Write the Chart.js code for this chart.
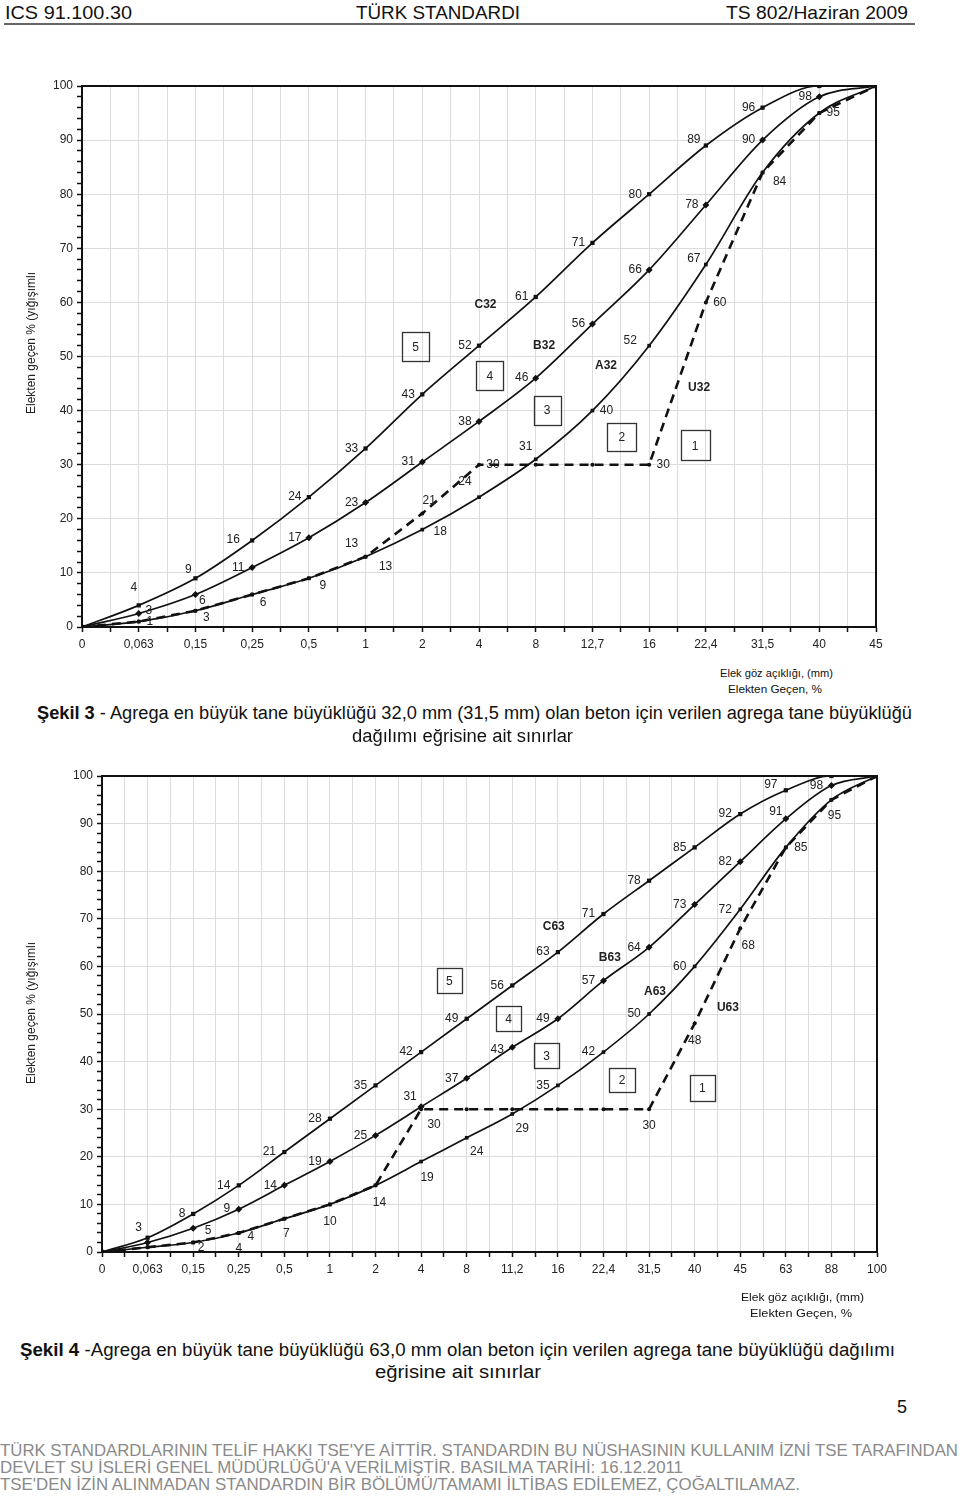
<!DOCTYPE html>
<html><head><meta charset="utf-8">
<script src="https://cdn.jsdelivr.net/npm/chart.js@4.4.0/dist/chart.umd.min.js"></script>
<style>
body{margin:0;width:960px;height:1498px;background:#fff;position:relative;overflow:hidden;font-family:"Liberation Sans",Arial,sans-serif;color:#111;}
.t{position:absolute;white-space:nowrap;transform-origin:0 50%;line-height:1;}
.wrap{position:absolute;left:0;width:960px;}
</style></head><body>
<div class="wrap" style="top:60px;height:600px"><canvas id="c1" width="960" height="600"></canvas></div>
<div class="wrap" style="top:740px;height:560px"><canvas id="c2" width="960" height="560"></canvas></div>
<div style="position:absolute;left:4px;top:23px;width:911px;height:2px;background:#666"></div>
<script>
// ---------- DATA: Şekil 3 ----------
const sieves32 = ['0','0,063','0,15','0,25','0,5','1','2','4','8','12,7','16','22,4','31,5','40','45'];
const C32 = [0,4,9,16,24,33,43,52,61,71,80,89,96,100,100];
const B32 = [0,2.5,6,11,16.5,23,30.5,38,46,56,66,78,90,98,100];
const A32 = [0,1,3,6,9,13,18,24,31,40,52,67,84,95,100];
const U32 = [0,1,3,6,9,13,21,30,30,30,30,60,84,95,100];
const C32lbl = ['','4','9','16','24','33','43','52','61','71','80','89','96','',''];
const B32lbl = ['','3','6','11','17','23','31','38','46','56','66','78','90','98',''];
const A32lbl = ['','1','3','6','9','13','18','24','31','40','52','67','84','95',''];
const U32lbl = ['','','','','','13','21','30','','','30','60','','',''];

// ---------- DATA: Şekil 4 ----------
const sieves63 = ['0','0,063','0,15','0,25','0,5','1','2','4','8','11,2','16','22,4','31,5','40','45','63','88','100'];
const C63 = [0,3,8,14,21,28,35,42,49,56,63,71,78,85,92,97,100,100];
const B63 = [0,2,5,9,14,19,24.5,30.5,36.5,43,49,57,64,73,82,91,98,100];
const A63 = [0,1,2,4,7,10,14,19,24,29,35,42,50,60,72,85,95,100];
const U63 = [0,1,2,4,7,10,14,30,30,30,30,30,30,48,68,85,95,100];
const C63lbl = ['','3','8','14','21','28','35','42','49','56','63','71','78','85','92','97','',''];
const B63lbl = ['','','5','9','14','19','25','31','37','43','49','57','64','73','82','91','98',''];
const A63lbl = ['','','2','4','7','10','14','19','24','29','35','42','50','60','72','85','95',''];
const U63lbl = ['','','','4','','','','30','','','','','30','48','68','','',''];

const yTicks = [0,10,20,30,40,50,60,70,80,90,100];

// ---------- label offsets (style) ----------
const L = [-14,0];
const offC32 = [[0,0],[-5,-18],[-7,-9],[-19,-1],L,L,L,L,L,L,L,[-12,-6],L,[0,0],[0,0]];
const offB32 = [[0,0],[10,-3],[7,6],L,L,L,L,L,L,L,L,L,L,L,[0,0]];
const offA32 = [[0,0],[11,0],[11,7],[11,8],[14,7],[20,10],[18,2],[-14,-15],[-10,-13],[14,0],[-19,-5],[-12,-6],[17,9],[14,0],[0,0]];
const offU32 = [[0,0],[0,0],[0,0],[0,0],[0,0],[-14,-13],[7,-13],[14,0],[0,0],[0,0],[14,0],[14,0],[0,0],[0,0],[0,0]];
const M = [-15,0];
const offC63 = [[0,0],[-9,-10],[-11,0],M,M,M,M,M,M,M,M,M,M,M,M,[-15,-6],[0,0],[0,0]];
const offB63 = [[0,0],[0,0],[15,2],[-12,0],[-14,0],M,M,[-11,-10],M,[-15,2],M,M,M,M,M,[-10,-7],M,[0,0]];
const offA63 = [[0,0],[0,0],[8,5],[12,4],[2,15],[0,17],[4,17],[6,16],[10,14],[10,15],M,M,M,M,M,[15,0],[3,16],[0,0]];
const offU63 = [[0,0],[0,0],[0,0],[0,16],[0,0],[0,0],[0,0],[13,15],[0,0],[0,0],[0,0],[0,0],[0,16],[0,17],[8,17],[0,0],[0,0],[0,0]];

const notes32 = [
 {t:'C32',x:7.115,y:59.7,bold:true},{t:'B32',x:8.147,y:52.1,bold:true},
 {t:'A32',x:9.24,y:48.4,bold:true},{t:'U32',x:10.88,y:44.4,bold:true},
 {t:'5',x:5.88,y:51.8,box:[27,29]},{t:'4',x:7.19,y:46.5,box:[27,29]},
 {t:'3',x:8.2,y:40.1,box:[27,29]},{t:'2',x:9.52,y:35.1,box:[29,28]},
 {t:'1',x:10.81,y:33.6,box:[29,30]}];
const notes63 = [
 {t:'C63',x:9.91,y:68.5,bold:true},{t:'B63',x:11.14,y:62.0,bold:true},
 {t:'A63',x:12.13,y:55.0,bold:true},{t:'U63',x:13.73,y:51.5,bold:true},
 {t:'5',x:7.62,y:57.0,box:[25,25]},{t:'4',x:8.92,y:49.1,box:[25,25]},
 {t:'3',x:9.75,y:41.3,box:[25,25]},{t:'2',x:11.41,y:36.1,box:[26,24]},
 {t:'1',x:13.17,y:34.5,box:[25,26]}];

const FONT = '"Liberation Sans", Arial, sans-serif';

const annot = {
 id:'annot',
 afterDatasetsDraw(chart, args, o){
  const ctx=chart.ctx, xs=chart.scales.x, ys=chart.scales.y, a=chart.chartArea;
  ctx.save();
  ctx.strokeStyle='#111'; ctx.lineWidth=2;
  ctx.strokeRect(a.left,a.top,a.right-a.left,a.bottom-a.top);
  ctx.fillStyle='#222'; ctx.textAlign='center'; ctx.textBaseline='middle';
  ctx.font='12px '+FONT;
  o.series.forEach(s=>{
    s.labels.forEach((t,i)=>{
      if(!t) return;
      const px=xs.getPixelForValue(i)+s.off[i][0], py=ys.getPixelForValue(s.values[i])+s.off[i][1];
      ctx.fillText(t,px,py);
    });
  });
  o.notes.forEach(n=>{
    const px=xs.getPixelForValue(n.x), py=ys.getPixelForValue(n.y);
    ctx.font=(n.bold?'bold ':'')+'12px '+FONT;
    ctx.fillText(n.t,px,py+1);
    if(n.box){ctx.lineWidth=1.3;ctx.strokeStyle='#333';ctx.strokeRect(Math.round(px-n.box[0]/2)+0.5,Math.round(py-n.box[1]/2)+0.5,n.box[0],n.box[1]);}
  });
  ctx.font='12px '+FONT;
  ctx.translate(o.titleX,o.titleY); ctx.rotate(-Math.PI/2);
  ctx.fillText('Elekten geçen % (yığışımlı',0,0);
  ctx.restore();
 }
};

function ds(vals, style, dashed){
  return Object.assign({
    data: vals.map((v,i)=>({x:i,y:v})),
    borderColor:'#111', backgroundColor:'#111', pointBackgroundColor:'#111', pointBorderColor:'#111',
    borderWidth: dashed?2.6:1.7, borderDash: dashed?[9,6]:[],
    tension: dashed?0:0.4, cubicInterpolationMode: dashed?'default':'monotone',
    pointBorderWidth:0, fill:false
  }, style);
}

function makeChart(id, cats, sets, series, notes, dims){
  const n=cats.length-1;
  return new Chart(document.getElementById(id), {
    type:'line',
    data:{datasets:sets},
    options:{
      responsive:false, animation:false, devicePixelRatio:1,
      layout:{padding:{top:dims.top,right:dims.right,left:0,bottom:0}},
      plugins:{legend:{display:false},tooltip:{enabled:false},
        annot:{series:series,notes:notes,titleX:dims.titleX,titleY:dims.titleY}},
      scales:{
        x:{type:'linear',min:0,max:n,
           afterFit(s){s.height=dims.xh;},
           ticks:{stepSize:0.5,autoSkip:false,maxRotation:0,padding:5,color:'#222',font:{size:12,family:FONT},
             callback:(v)=>Number.isInteger(v)?cats[v]:''},
           grid:{color:'#dcdcdc',lineWidth:1,tickColor:'#111',tickLength:5,tickWidth:1.5},
           border:{color:'#111',width:2}},
        y:{min:0,max:100,
           afterFit(s){s.width=dims.yw;},
           afterBuildTicks(s){s.ticks=[];for(let v=0;v<=100;v+=2)s.ticks.push({value:v});},
           ticks:{autoSkip:false,padding:4,color:'#222',font:{size:12,family:FONT},
             callback:(v)=>yTicks.includes(v)?String(v):''},
           grid:{color:(c)=>yTicks.includes(c.tick.value)?'#dcdcdc':'rgba(0,0,0,0)',tickColor:'#111',tickLength:5,tickWidth:1.5},
           border:{color:'#111',width:2}}
      }
    },
    plugins:[annot]
  });
}

makeChart('c1', sieves32, [
  ds(U32,{pointStyle:'circle',pointRadius:2},true),
  ds(C32,{pointStyle:'rect',pointRadius:3}),
  ds(B32,{pointStyle:'rectRot',pointRadius:3.5}),
  ds(A32,{pointStyle:'rect',pointRadius:2.6})
],[
  {values:C32,labels:C32lbl,off:offC32},{values:B32,labels:B32lbl,off:offB32},
  {values:A32,labels:A32lbl,off:offA32},{values:U32,labels:U32lbl,off:offU32}
], notes32, {top:26,right:84,xh:33,yw:82,titleX:32,titleY:283});

makeChart('c2', sieves63, [
  ds(U63,{pointStyle:'circle',pointRadius:2},true),
  ds(C63,{pointStyle:'rect',pointRadius:3}),
  ds(B63,{pointStyle:'rectRot',pointRadius:3.5}),
  ds(A63,{pointStyle:'rect',pointRadius:2.6})
],[
  {values:C63,labels:C63lbl,off:offC63},{values:B63,labels:B63lbl,off:offB63},
  {values:A63,labels:A63lbl,off:offA63},{values:U63,labels:U63lbl,off:offU63}
], notes63, {top:36,right:83,xh:48,yw:102,titleX:32,titleY:273});

// ---------- page texts ----------
function put(html,x,y,size,w,o){
  o=o||{};
  const d=document.createElement('div'); d.className='t'; d.innerHTML=html;
  d.style.fontSize=size+'px'; d.style.left=x+'px'; d.style.top=(y-size/2)+'px';
  if(o.color) d.style.color=o.color;
  document.body.appendChild(d);
  if(w){const m=d.getBoundingClientRect().width; d.style.transform='scaleX('+(w/m)+')';}
}
put('ICS 91.100.30',5,12,19,127);
put('TÜRK STANDARDI',356,12,19,164);
put('TS 802/Haziran 2009',726,12,19,182);
put('Elek göz açıklığı, (mm)',720,673,11,113);
put('Elekten Geçen, %',728,689,11,94);
put('<b>Şekil 3</b> - Agrega en büyük tane büyüklüğü 32,0 mm (31,5 mm) olan beton için verilen agrega tane büyüklüğü',37,713,18,875);
put('dağılımı eğrisine ait sınırlar',352,736,18,221);
put('Elek göz açıklığı, (mm)',741,1297,11,123);
put('Elekten Geçen, %',750,1313,11,102);
put('<b>Şekil 4</b> -Agrega en büyük tane büyüklüğü 63,0 mm olan beton için verilen agrega tane büyüklüğü dağılımı',20,1350,18,875);
put('eğrisine ait sınırlar',375,1372,18,166);
put('5',897,1407,18,0);
put("TÜRK STANDARDLARININ TELİF HAKKI TSE'YE AİTTİR. STANDARDIN BU NÜSHASININ KULLANIM İZNİ TSE TARAFINDAN",0,1450,17,958,{color:'#8a8a8a'});
put("DEVLET SU İSLERİ GENEL MÜDÜRLÜĞÜ'A VERİLMİŞTİR. BASILMA TARİHİ: 16.12.2011",0,1467,17,683,{color:'#8a8a8a'});
put("TSE'DEN İZİN ALINMADAN STANDARDIN BİR BÖLÜMÜ/TAMAMI İLTİBAS EDİLEMEZ, ÇOĞALTILAMAZ.",0,1484,17,800,{color:'#8a8a8a'});
</script>
</body></html>
